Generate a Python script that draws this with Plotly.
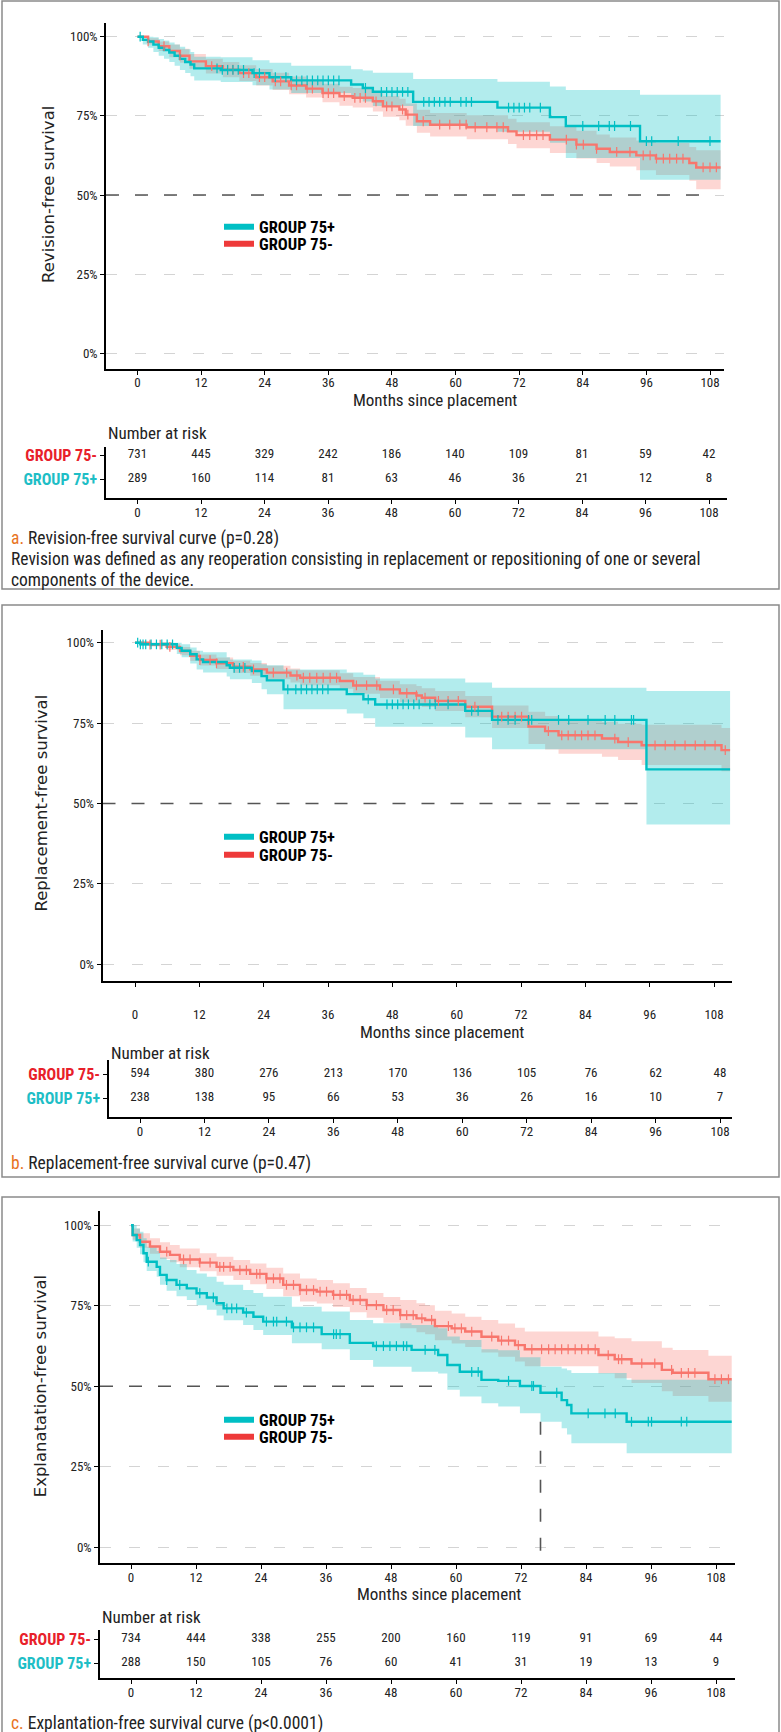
import numpy as np
import plotly.graph_objects as go

# ---------------- DATA ----------------
TICKS = [0, 12, 24, 36, 48, 60, 72, 84, 96, 108]
GROUPS = ["GROUP 75+", "GROUP 75-"]

# Panel a : revision-free survival
A_TEAL_T = [0, 1, 2, 3, 4, 5, 6, 7, 8, 9, 10, 10.7, 15.7, 21.7, 24.9, 29.0, 40.3, 42.5, 44.4, 52.0, 67.9, 77.8, 80.8, 94.8, 110.0]
A_TEAL_S = [1.0, .99, .985, .975, .965, .958, .95, .94, .93, .92, .912, .90, .895, .885, .872, .862, .849, .838, .826, .794, .776, .746, .718, .670, .670]
A_TEAL_UP = [1.0, 1.0, 1.0, .998, .993, .988, .982, .975, .968, .96, .952, .937, .935, .926, .918, .908, .897, .893, .886, .866, .858, .843, .832, .817, .817]
A_TEAL_LO = [1.0, .975, .965, .952, .94, .93, .92, .908, .895, .885, .875, .862, .857, .847, .833, .822, .807, .795, .781, .718, .70, .665, .617, .548, .548]
A_TEAL_CENS = [0.5, 15, 16, 17, 18, 19, 20, 22, 23, 26, 28, 30, 31, 32, 33, 34, 35, 36, 37, 38, 43, 46, 47, 48, 49, 50, 51,
               54, 55, 56, 57, 58, 59, 61, 62, 63, 70, 71, 72, 73, 74, 76, 84, 87, 89, 90, 93, 96, 97, 102, 108]
A_RED_T = [0, 2, 4, 6, 8, 9.8, 12.9, 16.1, 19.2, 22.4, 25.5, 28.6, 31.8, 34.9, 38.1, 40.6, 44.4, 46.3, 49.4, 50.6, 52.7, 55.2,
           62.1, 69.9, 71.5, 77.8, 82.8, 86.6, 89.1, 94.1, 97.8, 104.1, 105.4, 110.0]
A_RED_S = [1.0, .985, .97, .955, .94, .922, .907, .896, .885, .872, .859, .846, .836, .822, .812, .807, .796, .78, .77, .754,
           .733, .722, .714, .701, .689, .675, .659, .646, .636, .625, .615, .601, .587, .587]
A_RED_UP = [1.0, .995, .985, .975, .962, .945, .93, .92, .91, .898, .886, .874, .864, .851, .842, .838, .828, .813, .804, .789,
            .769, .759, .752, .741, .73, .717, .703, .691, .682, .672, .664, .652, .641, .641]
A_RED_LO = [1.0, .975, .955, .935, .918, .899, .884, .872, .86, .846, .832, .818, .808, .793, .782, .776, .764, .747, .736, .719,
            .697, .685, .676, .661, .648, .633, .615, .601, .59, .578, .563, .545, .518, .518]
A_RED_CENS = [2, 5, 8, 14, 17, 18, 20, 21, 23, 24, 26, 27, 29, 30, 32, 33, 35, 36, 37, 39, 41, 42, 43, 45, 47, 48, 50, 51,
              53.9, 57, 58.9, 60.8, 62, 63.7, 65.9, 67.8, 69, 72.8, 74, 75.3, 76.5, 80.9, 82.8, 84.1, 86.6, 90.4, 92.9,
              95.4, 96.7, 97.9, 99.2, 100.4, 101.7, 102.9, 106.7, 108, 109.2]
A_RISK_MINUS = [731, 445, 329, 242, 186, 140, 109, 81, 59, 42]
A_RISK_PLUS = [289, 160, 114, 81, 63, 46, 36, 21, 12, 8]

# Panel b : replacement-free survival
B_TEAL_T = [0, 1, 7.8, 8.7, 10.3, 11.5, 12.7, 17.1, 17.7, 21.8, 23.6, 24.6, 27.7, 39.5, 42.6, 44.8, 61.6, 66.6, 95.4, 111.0]
B_TEAL_S = [1.0, .995, .984, .975, .964, .948, .94, .93, .922, .912, .896, .883, .855, .84, .824, .808, .788, .76, .606, .606]
B_TEAL_UP = [1.0, 1.0, 1.0, .995, .985, .975, .97, .955, .948, .945, .933, .93, .917, .907, .90, .889, .876, .86, .85, .85]
B_TEAL_LO = [1.0, .99, .965, .955, .935, .917, .907, .895, .886, .875, .855, .84, .793, .78, .765, .739, .705, .669, .435, .435]
B_TEAL_CENS = [0.5, 1, 1.5, 2, 3, 4, 5, 6, 7, 18.5, 19.5, 20.5, 28.5, 30, 31, 32, 33, 34, 35, 36, 43.5, 47, 48, 49, 50, 51,
               52, 53, 55, 56, 58.4, 62.8, 64, 67.7, 69.6, 70.9, 73.4, 74, 79, 80.9, 84.5, 87.7, 89.5, 92.6, 93]
B_RED_T = [0, 2.8, 5.9, 8.4, 10.3, 12.1, 15.2, 18.3, 21.5, 24.6, 29.0, 30.8, 38.2, 40.7, 45.7, 49.4, 52.5, 53.5, 56.0, 61.6,
           66.6, 73.4, 76.5, 79.0, 87.1, 90.1, 94.5, 109.4, 111.0]
B_RED_S = [1.0, .994, .987, .974, .959, .946, .936, .925, .917, .907, .898, .891, .881, .867, .855, .843, .836, .829, .819, .801,
           .77, .739, .725, .712, .702, .691, .681, .666, .666]
B_RED_UP = [1.0, 1.0, .997, .987, .975, .963, .954, .944, .937, .928, .92, .914, .905, .893, .882, .871, .865, .858, .85, .834,
            .805, .785, .772, .762, .754, .748, .745, .735, .735]
B_RED_LO = [1.0, .988, .977, .961, .943, .929, .918, .906, .897, .886, .876, .868, .857, .841, .828, .815, .807, .8, .788, .768,
            .735, .685, .668, .655, .645, .635, .62, .6, .6]
B_RED_CENS = [2.8, 4.7, 6.5, 12.1, 14, 15.2, 20.2, 22.1, 25.8, 28.3, 30.2, 31.4, 32.6, 33.9, 35.1, 36.4, 37.6, 41.3, 43.2,
              45.1, 48.2, 50.7, 52.5, 54.1, 56.6, 58.4, 60.3, 63.4, 68.4, 69.6, 70.9, 72.1, 77.1, 79.6, 80.8, 82.1, 83.3,
              84.5, 85.8, 89.5, 92, 97, 98.9, 100.7, 102.6, 104.5, 106.3, 108.2, 110.1]
B_RISK_MINUS = [594, 380, 276, 213, 170, 136, 105, 76, 62, 48]
B_RISK_PLUS = [238, 138, 95, 66, 53, 36, 26, 16, 10, 7]

# Panel c : explantation-free survival
C_TEAL_T = [0, 0.3, 1.05, 1.66, 2.3, 2.9, 4.74, 5.35, 6.58, 8.4, 10.3, 12.1, 14.0, 15.8, 17.1, 20.7, 22.6, 24.4, 29.7, 35.2,
            40.4, 44.7, 51.8, 56.7, 58.4, 60.7, 64.7, 67.8, 71.8, 75.6, 79.5, 80.5, 81.3, 91.5, 110.9]
C_TEAL_S = [1.0, .97, .954, .939, .913, .887, .871, .846, .83, .815, .804, .789, .776, .758, .742, .729, .716, .701, .683, .662,
            .635, .625, .613, .597, .566, .545, .52, .517, .501, .48, .457, .442, .416, .39, .39]
C_TEAL_UP = [1.0, 1.0, .99, .98, .96, .933, .92, .9, .892, .88, .861, .85, .84, .825, .815, .799, .79, .778, .747, .732,
             .706, .696, .69, .68, .655, .644, .615, .612, .59, .561, .555, .55, .541, .52, .52]
C_TEAL_LO = [1.0, .95, .93, .91, .885, .858, .84, .815, .797, .78, .768, .752, .738, .72, .705, .69, .675, .659, .634, .615,
             .582, .561, .545, .54, .489, .468, .447, .437, .416, .39, .37, .35, .323, .292, .292]
C_TEAL_CENS = [3.2, 6.6, 9, 12.7, 15.2, 17.7, 18.6, 19.5, 21.3, 25, 26.3, 26.9, 28.7, 30, 31.2, 32.4, 33.7, 37.4, 37.9, 38.6,
               45.3, 46.6, 47.8, 49, 50.3, 50.9, 54.3, 56.1, 62.9, 64.1, 69.7, 74, 74.3, 78.6, 84.4, 87.5, 89.4, 92.4,
               95.5, 96.1, 101.6, 102.6]
C_RED_T = [0, 0.3, 1.66, 3.5, 5.35, 7.2, 9.0, 12.7, 15.8, 18.9, 22.0, 25.0, 28.1, 31.2, 34.3, 37.3, 40.4, 43.5, 46.6, 49.7,
           52.7, 54.3, 56.1, 59.2, 61.7, 64.7, 67.8, 70.9, 72.7, 86.3, 89.3, 92.4, 98.0, 100.0, 106.6, 110.9]
C_RED_S = [1.0, .97, .949, .934, .918, .908, .894, .884, .871, .861, .849, .835, .815, .799, .794, .784, .768, .752, .737, .721,
           .711, .706, .687, .68, .67, .654, .642, .628, .615, .597, .584, .571, .551, .542, .522, .522]
C_RED_UP = [1.0, .99, .975, .96, .947, .939, .928, .913, .902, .892, .881, .868, .85, .835, .83, .82, .805, .79, .777, .768,
            .758, .752, .735, .726, .716, .706, .695, .682, .67, .655, .649, .64, .62, .613, .595, .595]
C_RED_LO = [1.0, .955, .93, .912, .895, .885, .87, .857, .843, .83, .817, .802, .78, .763, .757, .746, .73, .713, .697, .68,
            .668, .662, .643, .633, .622, .605, .592, .577, .562, .54, .525, .51, .485, .47, .452, .452]
C_RED_CENS = [6.6, 9.7, 10.9, 12.7, 14.6, 16.4, 17.1, 18.3, 20.1, 21.3, 23.2, 23.8, 25, 26.3, 27.5, 28.7, 30, 31.2, 32.4, 33.7,
              34.9, 36.1, 37.4, 38.6, 39.8, 41, 42.3, 43.5, 45.3, 47.2, 48.4, 49.7, 50.9, 52.1, 53.7, 55.5, 58.6, 59.8,
              61, 62.9, 66.6, 68.4, 69.7, 71.5, 74, 75.8, 77.1, 78.3, 79.5, 80.7, 82, 83.2, 84.4, 85.7, 88.1, 90, 90.6,
              94.3, 96.7, 99.8, 101.6, 102.9, 104.1, 107.8, 109, 110.3]
C_RISK_MINUS = [734, 444, 338, 255, 200, 160, 119, 91, 69, 44]
C_RISK_PLUS = [288, 150, 105, 76, 60, 41, 31, 19, 13, 9]

Y_TITLES = ["Revision-free survival", "Replacement-free survival", "Explanatation-free survival"]
CAPTIONS = [
    ["<span style='color:#E8731E'>a.</span> Revision-free survival curve (p=0.28)",
     "Revision was defined as any reoperation consisting in replacement or repositioning of one or several",
     "components of the device."],
    ["<span style='color:#E8731E'>b.</span> Replacement-free survival curve (p=0.47)"],
    ["<span style='color:#E8731E'>c.</span> Explantation-free survival curve (p&lt;0.0001)"],
]

# ---------------- STYLE / LAYOUT ----------------
W, H = 781, 1732
TEAL, RED = "#00BFC4", "#F8766D"
TEAL_FILL, RED_FILL = "rgba(0,191,196,0.30)", "rgba(248,118,109,0.30)"
LAB_RED, LAB_TEAL = "#E8202A", "#1EBEC6"
LEG_RED = "#EE3A3A"
NARROW = "Roboto Condensed, DejaVu Sans Condensed, Liberation Sans Narrow, Arial Narrow, Noto Sans, sans-serif"
WIDE = "DejaVu Sans, Verdana, sans-serif"

DATA = [
    dict(teal=(A_TEAL_T, A_TEAL_S, A_TEAL_UP, A_TEAL_LO, A_TEAL_CENS),
         red=(A_RED_T, A_RED_S, A_RED_UP, A_RED_LO, A_RED_CENS), risk=(A_RISK_MINUS, A_RISK_PLUS)),
    dict(teal=(B_TEAL_T, B_TEAL_S, B_TEAL_UP, B_TEAL_LO, B_TEAL_CENS),
         red=(B_RED_T, B_RED_S, B_RED_UP, B_RED_LO, B_RED_CENS), risk=(B_RISK_MINUS, B_RISK_PLUS)),
    dict(teal=(C_TEAL_T, C_TEAL_S, C_TEAL_UP, C_TEAL_LO, C_TEAL_CENS),
         red=(C_RED_T, C_RED_S, C_RED_UP, C_RED_LO, C_RED_CENS), risk=(C_RISK_MINUS, C_RISK_PLUS)),
]

GEOM = [
    dict(plot=(106, 724, 22.7, 369), xa=(137.5, 710), ya=(36.7, 353.3), tab=(106, 727, 447, 498), txa=(137.5, 709),
         rows=(455, 479), ytx=48, xtitle=(435, 400), nar=(106, 433), caps=[538, 559, 580], border=(2, 1, 779, 589),
         leg=(219, 227, 244), standoff=-3, show_median_v=False),
    dict(plot=(102.5, 732, 630, 981), xa=(135, 714), ya=(642.7, 964.3), tab=(109, 732, 1060, 1117), txa=(140, 720),
         rows=(1074, 1098), ytx=41, xtitle=(442, 1032), nar=(109, 1053), caps=[1163], border=(2, 605, 779, 1177),
         leg=(219, 837, 855), standoff=17, show_median_v=False),
    dict(plot=(100, 735, 1210.7, 1563.3), xa=(131, 716), ya=(1225.3, 1547.3), tab=(100, 735, 1630, 1678), txa=(131, 716),
         rows=(1639, 1663), ytx=40, xtitle=(439, 1594), nar=(100, 1617), caps=[1723], border=(2, 1197, 779, 1745),
         leg=(219, 1420, 1437), standoff=-3, show_median_v=True),
]


def rng(lo_px, hi_px, pa, pb, va, vb):
    s = (pb - pa) / (vb - va)
    return [va + (lo_px - pa) / s, va + (hi_px - pa) / s]


def step_at(t, times, vals):
    times = np.asarray(times)
    vals = np.asarray(vals)
    idx = np.searchsorted(times, np.asarray(t), side="right") - 1
    return vals[np.clip(idx, 0, len(vals) - 1)]


def ax(n, kind):
    return (kind + "axis") if n == 1 else f"{kind}axis{n}"


def ref(n, kind):
    return kind if n == 1 else f"{kind}{n}"


fig = go.Figure()
layout = dict(width=W, height=H, margin=dict(l=0, r=0, t=0, b=0), paper_bgcolor="white", plot_bgcolor="white",
              showlegend=True)
annotations, shapes = [], []

for i, (d, g) in enumerate(zip(DATA, GEOM)):
    pn, tn = 2 * i + 1, 2 * i + 2
    xr, yr = ref(pn, "x"), ref(pn, "y")
    txr, tyr = ref(tn, "x"), ref(tn, "y")
    x0, x1, yt, yb = g["plot"]
    xrange = rng(x0, x1, g["xa"][0], g["xa"][1], 0, 108)
    yrange = rng(yb, yt, g["ya"][0], g["ya"][1], 1, 0)

    # median reference line at 50 %
    tt, ts, tu, tl, tc = d["teal"]
    below = [t for t, v in zip(tt, tl) if v < 0.5]
    hend = below[0] if below else TICKS[-1]
    fig.add_trace(go.Scatter(x=[xrange[0], hend], y=[0.5, 0.5], mode="lines", xaxis=xr, yaxis=yr,
                             line=dict(color="#555555", width=1.6, dash="13px,16px"), showlegend=False,
                             hoverinfo="skip"))
    if g["show_median_v"]:
        tmed = [t for t, v in zip(tt, ts) if v <= 0.5][0]
        ylo = float(step_at(tmed, tt, tl))
        fig.add_trace(go.Scatter(x=[tmed, tmed], y=[ylo, -0.022], mode="lines", xaxis=xr, yaxis=yr,
                                 line=dict(color="#555555", width=1.6, dash="13px,16px"), showlegend=False,
                                 hoverinfo="skip"))

    # confidence ribbons
    for key, fill in (("red", RED_FILL), ("teal", TEAL_FILL)):
        T, S, U, L, C = d[key]
        fig.add_trace(go.Scatter(x=T, y=L, mode="lines", line=dict(width=0, shape="hv"), xaxis=xr, yaxis=yr,
                                 showlegend=False, hoverinfo="skip"))
        fig.add_trace(go.Scatter(x=T, y=U, mode="lines", line=dict(width=0, shape="hv"), xaxis=xr, yaxis=yr,
                                 fill="tonexty", fillcolor=fill, showlegend=False, hoverinfo="skip"))
    # curves
    for key, col in (("red", RED), ("teal", TEAL)):
        T, S, U, L, C = d[key]
        fig.add_trace(go.Scatter(x=T, y=S, mode="lines", line=dict(color=col, width=2.4, shape="hv"),
                                 xaxis=xr, yaxis=yr, showlegend=False))
    for key, col in (("red", RED), ("teal", TEAL)):
        T, S, U, L, C = d[key]
        fig.add_trace(go.Scatter(x=C, y=step_at(C, T, S), mode="markers", xaxis=xr, yaxis=yr,
                                 marker=dict(symbol="line-ns-open", size=7, color=col, line=dict(color=col, width=1.2)),
                                 showlegend=False, hoverinfo="skip"))
    # legend entries (one legend box per entry)
    for k, (name, col) in enumerate(((GROUPS[0], TEAL), (GROUPS[1], LEG_RED))):
        ln = 2 * i + k + 1
        legname = "legend" if ln == 1 else f"legend{ln}"
        fig.add_trace(go.Scatter(x=[None], y=[None], mode="lines", xaxis=xr, yaxis=yr,
                                 line=dict(color=col, width=6), name=f"<b>{name}</b>", legend=legname,
                                 showlegend=True))
        layout[legname] = dict(x=g["leg"][0] / W, y=1 - g["leg"][1 + k] / H, xanchor="left", yanchor="middle",
                               bgcolor="rgba(0,0,0,0)", font=dict(family=NARROW, size=16.5, color="black"),
                               itemwidth=30, tracegroupgap=0)

    # number at risk table
    minus, plus = d["risk"]
    fig.add_trace(go.Scatter(x=TICKS + TICKS, y=[1] * len(TICKS) + [0] * len(TICKS), mode="text",
                             text=[str(v) for v in minus] + [str(v) for v in plus], xaxis=txr, yaxis=tyr,
                             textfont=dict(family=NARROW, size=13, color="#222222"), showlegend=False,
                             hoverinfo="skip"))

    # axes
    tick_font = dict(family=NARROW, size=13, color="#222222")
    layout[ax(pn, "x")] = dict(domain=[x0 / W, x1 / W], range=xrange, anchor=yr, tickvals=TICKS,
                               showgrid=False, zeroline=False, showline=True, linecolor="black", linewidth=1.6,
                               ticks="outside", ticklen=4, tickcolor="black", tickwidth=1, tickfont=tick_font,
                               ticklabelstandoff=g["standoff"])
    layout[ax(pn, "y")] = dict(domain=[1 - yb / H, 1 - yt / H], range=yrange, anchor=xr,
                               tickvals=[0, 0.25, 0.5, 0.75, 1], ticktext=["0%", "25%", "50%", "75%", "100%"],
                               showgrid=True, gridcolor="#D4D4D4", gridwidth=1.3, griddash="11px,18px",
                               zeroline=False, showline=True, linecolor="black", linewidth=1.6, ticks="outside",
                               ticklen=4, tickcolor="black", tickwidth=1, tickfont=tick_font)
    tx0, tx1, tyt, tyb = g["tab"]
    layout[ax(tn, "x")] = dict(domain=[tx0 / W, tx1 / W], range=rng(tx0, tx1, g["txa"][0], g["txa"][1], 0, 108),
                               anchor=tyr, tickvals=TICKS, showgrid=False, zeroline=False, showline=True,
                               linecolor="black", linewidth=1.6, ticks="outside", ticklen=4, tickcolor="black",
                               tickwidth=1, tickfont=tick_font, ticklabelstandoff=-2)
    layout[ax(tn, "y")] = dict(domain=[1 - tyb / H, 1 - tyt / H],
                               range=rng(tyb, tyt, g["rows"][0], g["rows"][1], 1, 0), anchor=txr,
                               tickvals=[1, 0],
                               ticktext=[f"<b><span style='color:{LAB_RED}'>{GROUPS[1]}</span></b>",
                                         f"<b><span style='color:{LAB_TEAL}'>{GROUPS[0]}</span></b>"],
                               showgrid=False, zeroline=False, showline=True, linecolor="black", linewidth=1.6,
                               ticks="outside", ticklen=4, tickcolor="black", tickwidth=1,
                               tickfont=dict(family=NARROW, size=16))

    # text
    annotations.append(dict(x=g["ytx"] / W, y=1 - (g["ya"][0] + g["ya"][1]) / 2 / H, xref="paper", yref="paper",
                            text=Y_TITLES[i], textangle=-90, showarrow=False, xanchor="center", yanchor="middle",
                            font=dict(family=WIDE, size=16.5, color="#222222")))
    annotations.append(dict(x=g["xtitle"][0] / W, y=1 - g["xtitle"][1] / H, xref="paper", yref="paper",
                            text="Months since placement", showarrow=False, xanchor="center", yanchor="middle",
                            font=dict(family=NARROW, size=17, color="#222222")))
    annotations.append(dict(x=g["nar"][0] / W, y=1 - g["nar"][1] / H, xref="paper", yref="paper",
                            text="Number at risk", showarrow=False, xanchor="left", yanchor="middle",
                            font=dict(family=NARROW, size=17, color="#222222")))
    for cy, ctext in zip(g["caps"], CAPTIONS[i]):
        annotations.append(dict(x=9 / W, y=1 - cy / H, xref="paper", yref="paper", text=ctext, showarrow=False,
                                xanchor="left", yanchor="middle",
                                font=dict(family=NARROW, size=17.5, color="#222222")))
    bx0, by0, bx1, by1 = g["border"]
    shapes.append(dict(type="rect", xref="paper", yref="paper", x0=bx0 / W, x1=bx1 / W, y0=1 - by1 / H,
                       y1=1 - by0 / H, line=dict(color="#8A8A8A", width=1.5), fillcolor="rgba(0,0,0,0)"))

layout["annotations"] = annotations
layout["shapes"] = shapes
fig.update_layout(**layout)
fig.write_html("out.html", config={"displayModeBar": False},
               post_script="document.body.style.margin='0';document.body.style.padding='0';")
